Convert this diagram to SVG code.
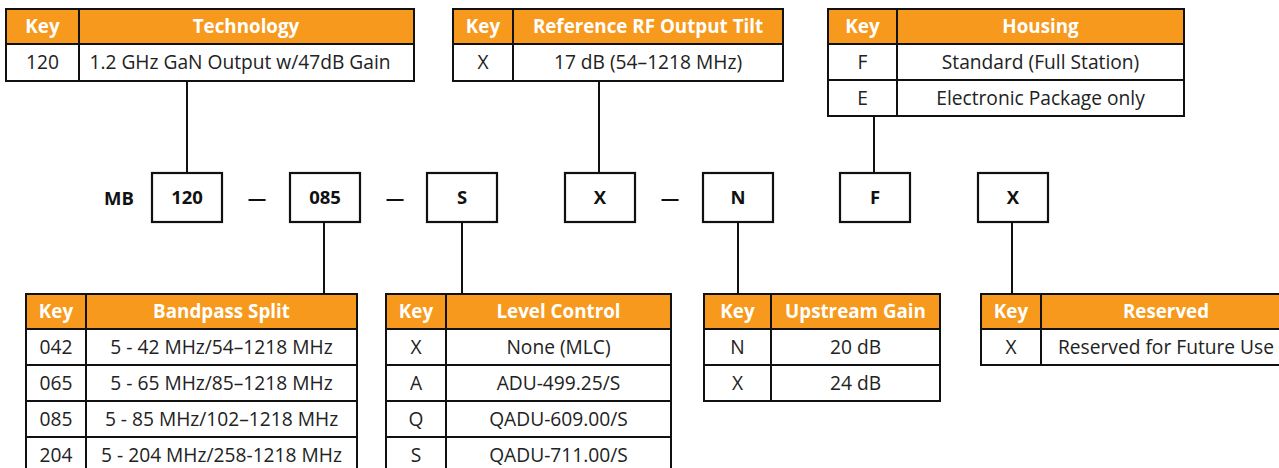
<svg xmlns="http://www.w3.org/2000/svg" width="1279" height="468" viewBox="0 0 1279 468">
<style>
.hd{fill:#F7991C;stroke:#111;stroke-width:2}
.cl{fill:#fff;stroke:#111;stroke-width:2}
.bx{fill:#fff;stroke:#111;stroke-width:2.2}
.ln{stroke:#111;stroke-width:2;fill:none}
.ht{font-family:"Open Sans","Noto Sans",sans-serif;font-weight:bold;font-size:18.8px;fill:#fff;text-anchor:middle}
.bt{font-family:"Open Sans","Noto Sans",sans-serif;font-size:19.2px;fill:#222;text-anchor:middle}
.mt{font-family:"Open Sans","Noto Sans",sans-serif;font-weight:bold;font-size:18.5px;fill:#111;text-anchor:middle}
</style>
<rect width="1279" height="468" fill="#fff"/>
<g id="connectors">
<line class="ln" x1="187" y1="81" x2="187" y2="173"/>
<line class="ln" x1="599" y1="81" x2="599" y2="173"/>
<line class="ln" x1="874" y1="116" x2="874" y2="173"/>
<line class="ln" x1="324" y1="222" x2="324" y2="294"/>
<line class="ln" x1="462" y1="222" x2="462" y2="294"/>
<line class="ln" x1="738" y1="222" x2="738" y2="294"/>
<line class="ln" x1="1012" y1="222" x2="1012" y2="294"/>
</g>
<g id="table-technology">
<rect class="hd" x="6" y="9" width="73" height="35"/><rect class="hd" x="79" y="9" width="335" height="35"/>
<rect class="cl" x="6" y="44" width="73" height="37"/><rect class="cl" x="79" y="44" width="335" height="37"/>
<text class="ht" x="42.5" y="33">Key</text><text class="ht" x="246" y="33">Technology</text>
<text class="bt" x="42.5" y="69">120</text><text class="bt" x="240" y="69">1.2 GHz GaN Output w/47dB Gain</text>
</g>
<g id="table-tilt">
<rect class="hd" x="453" y="9" width="60" height="35"/><rect class="hd" x="513" y="9" width="270" height="35"/>
<rect class="cl" x="453" y="44" width="60" height="37"/><rect class="cl" x="513" y="44" width="270" height="37"/>
<text class="ht" x="483" y="33">Key</text><text class="ht" x="648" y="33">Reference RF Output Tilt</text>
<text class="bt" x="483" y="69">X</text><text class="bt" x="648" y="69">17 dB (54–1218 MHz)</text>
</g>
<g id="table-housing">
<rect class="hd" x="828" y="9" width="69" height="35"/><rect class="hd" x="897" y="9" width="287" height="35"/>
<rect class="cl" x="828" y="44" width="69" height="36"/><rect class="cl" x="897" y="44" width="287" height="36"/>
<rect class="cl" x="828" y="80" width="69" height="36"/><rect class="cl" x="897" y="80" width="287" height="36"/>
<text class="ht" x="862.5" y="33">Key</text><text class="ht" x="1040.5" y="33">Housing</text>
<text class="bt" x="862.5" y="69">F</text><text class="bt" x="1040.5" y="69">Standard (Full Station)</text>
<text class="bt" x="862.5" y="105">E</text><text class="bt" x="1040.5" y="105">Electronic Package only</text>
</g>
<g id="part-number">
<text class="mt" x="119" y="205">MB</text>
<text class="mt" x="257" y="205">—</text>
<text class="mt" x="395" y="205">—</text>
<text class="mt" x="670" y="205">—</text>
</g>
<g id="box-120"><rect class="bx" x="152" y="173" width="70" height="49"/><text class="mt" x="187" y="204">120</text></g>
<g id="box-085"><rect class="bx" x="290" y="173" width="70" height="49"/><text class="mt" x="325" y="204">085</text></g>
<g id="box-S"><rect class="bx" x="427" y="173" width="70" height="49"/><text class="mt" x="462" y="204">S</text></g>
<g id="box-X1"><rect class="bx" x="565" y="173" width="70" height="49"/><text class="mt" x="600" y="204">X</text></g>
<g id="box-N"><rect class="bx" x="703" y="173" width="70" height="49"/><text class="mt" x="738" y="204">N</text></g>
<g id="box-F"><rect class="bx" x="840" y="173" width="70" height="49"/><text class="mt" x="875" y="204">F</text></g>
<g id="box-X2"><rect class="bx" x="978" y="173" width="70" height="49"/><text class="mt" x="1013" y="204">X</text></g>
<g id="table-bandpass">
<rect class="hd" x="26" y="294" width="60" height="35"/><rect class="hd" x="86" y="294" width="271" height="35"/>
<rect class="cl" x="26" y="329" width="60" height="36"/><rect class="cl" x="86" y="329" width="271" height="36"/>
<rect class="cl" x="26" y="365" width="60" height="36"/><rect class="cl" x="86" y="365" width="271" height="36"/>
<rect class="cl" x="26" y="401" width="60" height="36"/><rect class="cl" x="86" y="401" width="271" height="36"/>
<rect class="cl" x="26" y="437" width="60" height="36"/><rect class="cl" x="86" y="437" width="271" height="36"/>
<text class="ht" x="56" y="318">Key</text><text class="ht" x="221.5" y="318">Bandpass Split</text>
<text class="bt" x="56" y="354">042</text><text class="bt" x="221.5" y="354">5 - 42 MHz/54–1218 MHz</text>
<text class="bt" x="56" y="390">065</text><text class="bt" x="221.5" y="390">5 - 65 MHz/85–1218 MHz</text>
<text class="bt" x="56" y="426">085</text><text class="bt" x="221.5" y="426">5 - 85 MHz/102–1218 MHz</text>
<text class="bt" x="56" y="462">204</text><text class="bt" x="221.5" y="462">5 - 204 MHz/258-1218 MHz</text>
</g>
<g id="table-level">
<rect class="hd" x="386" y="294" width="60" height="35"/><rect class="hd" x="446" y="294" width="225" height="35"/>
<rect class="cl" x="386" y="329" width="60" height="36"/><rect class="cl" x="446" y="329" width="225" height="36"/>
<rect class="cl" x="386" y="365" width="60" height="36"/><rect class="cl" x="446" y="365" width="225" height="36"/>
<rect class="cl" x="386" y="401" width="60" height="36"/><rect class="cl" x="446" y="401" width="225" height="36"/>
<rect class="cl" x="386" y="437" width="60" height="36"/><rect class="cl" x="446" y="437" width="225" height="36"/>
<text class="ht" x="416" y="318">Key</text><text class="ht" x="558.5" y="318">Level Control</text>
<text class="bt" x="416" y="354">X</text><text class="bt" x="558.5" y="354">None (MLC)</text>
<text class="bt" x="416" y="390">A</text><text class="bt" x="558.5" y="390">ADU-499.25/S</text>
<text class="bt" x="416" y="426">Q</text><text class="bt" x="558.5" y="426">QADU-609.00/S</text>
<text class="bt" x="416" y="462">S</text><text class="bt" x="558.5" y="462">QADU-711.00/S</text>
</g>
<g id="table-upstream">
<rect class="hd" x="704" y="294" width="67" height="35"/><rect class="hd" x="771" y="294" width="169" height="35"/>
<rect class="cl" x="704" y="329" width="67" height="36"/><rect class="cl" x="771" y="329" width="169" height="36"/>
<rect class="cl" x="704" y="365" width="67" height="36"/><rect class="cl" x="771" y="365" width="169" height="36"/>
<text class="ht" x="737.5" y="318">Key</text><text class="ht" x="855.5" y="318">Upstream Gain</text>
<text class="bt" x="737.5" y="354">N</text><text class="bt" x="855.5" y="354">20 dB</text>
<text class="bt" x="737.5" y="390">X</text><text class="bt" x="855.5" y="390">24 dB</text>
</g>
<g id="table-reserved">
<rect class="hd" x="981" y="294" width="60" height="35"/><rect class="hd" x="1041" y="294" width="250" height="35"/>
<rect class="cl" x="981" y="329" width="60" height="36"/><rect class="cl" x="1041" y="329" width="250" height="36"/>
<text class="ht" x="1011" y="318">Key</text><text class="ht" x="1166" y="318">Reserved</text>
<text class="bt" x="1011" y="354">X</text><text class="bt" x="1166" y="354">Reserved for Future Use</text>
</g>
</svg>
